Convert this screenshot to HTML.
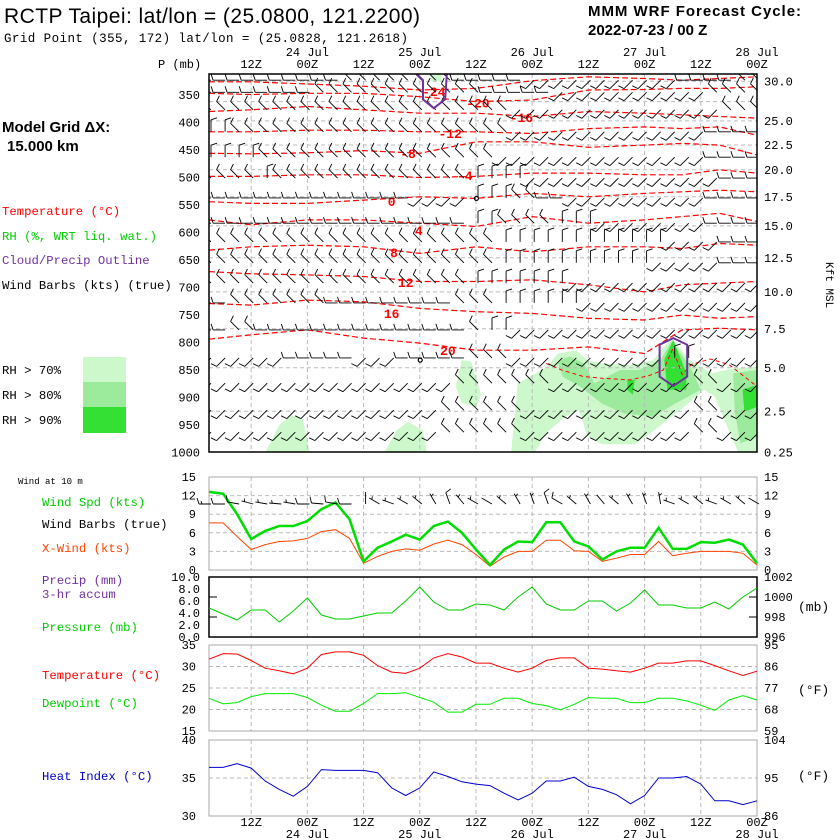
<!DOCTYPE html>
<html><head><meta charset="utf-8"><style>
html,body{margin:0;padding:0;background:#fff;}
svg{display:block;}
text{font-family:"Liberation Mono","DejaVu Sans Mono",monospace;}
.ttl{font-family:"Liberation Sans",Arial,sans-serif;}
</style></head><body>
<svg id="chart" xmlns="http://www.w3.org/2000/svg" width="840" height="840" viewBox="0 0 840 840">
<text class="ttl" x="4" y="23" font-size="21" textLength="416">RCTP Taipei:  lat/lon = (25.0800, 121.2200)</text>
<text x="4" y="42" font-size="12.5" textLength="404">Grid Point (355, 172) lat/lon = (25.0828, 121.2618)</text>
<text class="ttl" x="588" y="16" font-size="15" font-weight="bold" textLength="213">MMM WRF Forecast Cycle:</text>
<text class="ttl" x="588" y="35" font-size="15" font-weight="bold">2022-07-23 / 00  Z</text>
<text x="158" y="68" font-size="12">P (mb)</text>
<text class="ttl" x="2" y="132" font-size="15" font-weight="bold">Model Grid ΔX:</text>
<text class="ttl" x="7" y="151" font-size="15" font-weight="bold">15.000 km</text>
<text x="2" y="215" font-size="12.3" fill="#ff0000">Temperature (°C)</text>
<text x="2" y="240" font-size="12.3" fill="#00cc00">RH (%, WRT liq. wat.)</text>
<text x="2" y="264" font-size="12.3" fill="#7030a0">Cloud/Precip Outline</text>
<text x="2" y="289" font-size="12.3" fill="#000">Wind Barbs (kts) (true)</text>
<text x="2" y="374" font-size="12.3">RH &gt; 70%</text>
<text x="2" y="399" font-size="12.3">RH &gt; 80%</text>
<text x="2" y="424" font-size="12.3">RH &gt; 90%</text>
<rect x="83" y="357" width="43" height="25" fill="#ccf8cc"/>
<rect x="83" y="382" width="43" height="25" fill="#9ceb9c"/>
<rect x="83" y="407" width="43" height="26" fill="#33e033"/>
<text font-size="11" transform="translate(826,262) rotate(90)">Kft MSL</text>
<text x="18" y="484" font-size="9">Wind at 10 m</text>
<text x="42" y="506" font-size="12.3" fill="#00cc00">Wind Spd (kts)</text>
<text x="42" y="528" font-size="12.3">Wind Barbs (true)</text>
<text x="42" y="552" font-size="12.3" fill="#ff4400">X-Wind (kts)</text>
<text x="42" y="584" font-size="12.3" fill="#7030a0">Precip (mm)</text>
<text x="42" y="598" font-size="12.3" fill="#7030a0">3-hr accum</text>
<text x="42" y="631" font-size="12.3" fill="#00cc00">Pressure (mb)</text>
<text x="798" y="611" font-size="13">(mb)</text>
<text x="42" y="679" font-size="12.3" fill="#ff0000">Temperature (°C)</text>
<text x="42" y="707" font-size="12.3" fill="#00cc00">Dewpoint (°C)</text>
<text x="798" y="694" font-size="13">(°F)</text>
<text x="42" y="780" font-size="12.3" fill="#0000cc">Heat Index (°C)</text>
<text x="798" y="780" font-size="13">(°F)</text>
<g id="g"></g>
</svg>
<script>
// ---------- data ----------
const timeHours = [3,6,9,12,15,18,21,24,27,30,33,36,39,42,45,48,51,54,57,60,63,66,69,72,75,78,81,84,87,90,93,96,99,102,105,108,111,114,117,120];
const tickHours = [12,24,36,48,60,72,84,96,108,120];
const tickTimes = ["12Z","00Z","12Z","00Z","12Z","00Z","12Z","00Z","12Z","00Z"];
const dateHours = [24,48,72,96,120];
const dateLabels = ["24 Jul","25 Jul","26 Jul","27 Jul","28 Jul"];
const pressTicks = [350,400,450,500,550,600,650,700,750,800,850,900,950,1000];
const kftLabels = ["30.0","25.0","22.5","20.0","17.5","15.0","12.5","10.0","7.5","5.0","2.5","0.25"];
const kftPress = [325,397,441,486,535,588,646,708,775,846,925,1000];
const kftGridPress = [325,362,397,441,486,535,588,646,708,775,846,925];
const precipTicks = [10,8,6,4,2,0];
const precipLabels = ["10.0","8.0","6.0","4.0","2.0","0.0"];

const windSpd = [12.6,12.3,9,5,6.3,7.1,7.1,7.9,9.8,10.9,8.2,1.4,3.6,4.6,5.7,4.9,7.1,7.8,6,3.3,0.8,3.3,4.6,4.5,7.7,7.7,4.6,3.8,1.7,3,3.6,3.6,6.8,3.4,3.4,4.5,4.4,4.9,4.1,1.1];
const xWind = [7.6,7.6,5.4,3.3,4.1,4.6,4.7,5.1,6.2,6.5,5.1,1.1,2.2,3,3.4,3.2,4.2,4.8,4.1,2.5,0.6,2.1,3,3,4.8,4.8,3.1,3,1.4,1.9,2.5,2.5,4.6,2.3,2.7,3,3,3,2.7,0.8];
const wind10Dir = [270,270,280,285,280,275,280,270,275,280,270,0,300,290,300,310,330,340,320,300,300,310,330,340,340,300,310,330,320,310,330,340,350,290,300,310,290,300,310,300];
const surfPress = [998.9,998.3,997.7,998.7,998.7,997.5,998.6,999.9,998.2,997.8,997.8,998.1,998.4,998.4,999.6,1001.0,999.5,998.7,998.7,999.3,999.2,998.7,1000,1001,999.3,998.7,998.7,999.6,999.6,998.6,999.4,1000.7,999.2,999.2,998.9,998.9,999.5,998.8,1000,1000.9];
const temp2m = [31.7,33,32.9,31.4,29.6,29,28.3,29.6,32.8,33.4,33.4,32.6,30.2,28.7,28.4,29.6,32,33,32.2,30.8,30.8,29.6,28.7,29.6,31.4,32,32,29.6,29.4,29,28.7,29.6,30.8,30.8,31.3,31.3,30.2,29,27.9,28.9];
const dewpt = [22.6,21.3,21.6,23,23.7,23.7,23.7,22.8,21,19.6,19.6,21.4,23.7,23.7,23.9,22.8,21.7,19.4,19.4,21.2,21.2,22.6,22.6,21.4,20.9,19.9,21.2,22.8,22.6,22.6,21.6,21.6,22.6,22.6,22,21,19.8,22.2,23.2,22.2];
const heatIdx = [36.4,36.4,36.9,36.3,34.6,33.5,32.6,33.9,36.1,36,36,36,35.7,33.7,32.7,33.7,35.8,35.2,34.5,34.2,34,33,32.1,33,34.6,34.6,35.1,33.9,33.5,32.8,31.6,32.7,35,35,35.2,34.2,32,32,31.5,32];

// temperature contours (pressure mb at sample hours)
const contourHours = [3,12,24,36,48,60,72,84,96,104,112,120];
const contourLevels = [-24,-20,-16,-12,-8,-4,0,4,8,12,16,20];
const contourPress = [
 [326,326,330,334,341,338,324,317,320,323,320,317],
 [347,349,347,347,353,362,359,341,340,338,338,335],
 [380,377,371,377,383,383,389,380,383,386,389,392],
 [417,417,414,414,417,417,420,411,408,411,408,423],
 [456,457,455,451,456,435,435,445,441,438,441,459],
 [498,498,495,495,500,498,492,492,495,495,486,492],
 [544,547,547,541,535,538,529,535,529,526,523,526],
 [577,586,577,577,583,589,571,583,577,571,565,580],
 [632,626,623,626,638,626,635,626,626,629,620,623],
 [671,675,677,680,689,689,686,695,708,695,692,689],
 [729,732,723,726,738,744,747,756,759,750,756,753],
 [794,786,777,792,801,814,814,808,820,777,774,777]];
const contourLabelHour = [51,60.4,69.7,54.5,45.5,57.6,42,47.8,42.5,45,42,54];
const contourLabelPress = [343,364,390,419,455,495,543,595,635,690,746,814];
const lowContour = [[75,838],[78.3,850],[83,862],[87,865],[93,868],[97,860],[100,850],[102,812],[104,858],[106,840],[110,830],[114,840],[120,880]];

// RH shading polygons [hour, pressure]
const rhLight = [
 [[15,1000],[18,950],[20.6,932],[23,940],[24.5,1000]],
 [[40.5,1000],[43,960],[45.5,944],[48.7,960],[49.5,1000]],
 [[55.7,880],[57,832],[59,835],[61.1,895],[60,917],[57,910]],
 [[67.5,1000],[68.9,874],[72,860],[75,845],[77.5,820],[81.4,814],[83.8,832],[86.9,838],[93.1,841],[97.8,832],[101.7,792],[105.6,832],[110.3,856],[114.9,847],[120,844],[120,1000],[116,1000],[114,960],[111,898],[108.7,886],[104,920],[98,960],[94,985],[87,985],[83.8,971],[82,923],[79,935],[75,965],[72.5,1000]],
 [[50.3,312],[52.6,312],[52.6,325],[50.3,325]]];
const rhMed = [
 [[77.5,835],[80,825],[83,838],[85.3,874],[90.8,850],[94.7,850],[99.4,832],[101.7,798],[105.6,841],[108,886],[102.5,911],[97.8,935],[91.6,929],[86.9,911],[82.2,880],[78.5,862]],
 [[114.9,856],[120,850],[120,971],[116.5,983],[115.3,929]]];
const rhDark = [
 [[100.2,832],[102.1,795],[104.9,856],[104.9,886],[100.9,886]],
 [[92.3,868],[93.9,868],[93.5,895],[92.3,886]],
 [[116.9,886],[120,877],[120,917],[117.3,926]]];
const cloudHex = [[99.2,804],[102.1,792],[105.1,804],[105.1,862],[102.1,879],[99.2,862],[99.2,804]];
const cloudTop = [[47.1,310],[48.7,323],[48.7,358],[51,374],[53.4,358],[53.8,310]];
const calmHours = [60.1,48.1];
const calmPress = [538,832];

// upper-air wind barbs: levels, speed per level, direction code per column (0=N..7=NW)
const barbLevels = [323,345,377,417,463,501,537,583,617,655,692,728,777,828,874,923,963];
const barbSpeeds = [10,10,10,10,10,10,10,10,10,10,10,10,10,10,10,10,10];
const barbDirs = [
"6666666666777777776666655555555555666677",
"6666666677777777777766666555555555557777",
"7777777777777777777777555555555555555777",
"0077777777777777777777555555555555556666",
"0000777777777777777775555555555555556666",
"7777077777777777777000055555555555555666",
"6666666666666665555000776655555555556666",
"6666666666666666666007777000555555556666",
"7777777777777777777770000000000005555666",
"7777777777777777777770000000000055555666",
"7777777777777777777000000055555555555555",
"6677777776666666667770000005555555555555",
"6677666666666666666700555555555555555555",
"5555556666655566666777555555555550055555",
"5555555555555555557777777555555555577555",
"5555555555555555577777755555555555577555",
"5555555555555555577777755555555555577555"];

// ---------- scales ----------
const L=209, R=757;
const X = h => L + (h-3)*(R-L)/117;
const YP = p => 95 + (p-350)*0.55;
const YW = v => 570 - v*6.2;
const YS = mb => 577 + (1002-mb)*10;
const YR = mm => 637 - mm*6;
const YT = c => 645 + (35-c)*4.3;
const YH = c => 740 + (40-c)*7.6;
const NS="http://www.w3.org/2000/svg";
const g=document.getElementById('g');
function el(tag,attrs,parent){const e=document.createElementNS(NS,tag);for(const k in attrs)e.setAttribute(k,attrs[k]);(parent||g).appendChild(e);return e;}
function txt(s,x,y,attrs,parent){const e=el('text',Object.assign({x:x,y:y,'font-size':12},attrs||{}),parent);e.textContent=s;return e;}
function poly(pts,fx,fy){return pts.map(p=>fx(p[0]).toFixed(1)+','+fy(p[1]).toFixed(1)).join(' ');}

// ---------- main panel ----------
const main=el('g',{});


const clip=el('clipPath',{id:'mc'});el('rect',{x:L,y:74,width:R-L,height:378},clip);
const mainC=el('g',{'clip-path':'url(#mc)'},main);
[[rhLight,'#ccf8cc'],[rhMed,'#9ceb9c'],[rhDark,'#33e033']].forEach(([set,col])=>{
  set.forEach(pg=>{const p=el('polygon',{points:poly(pg,X,YP),fill:col},mainC);
  
  });
});
kftGridPress.forEach(p=>{const l=el('line',{x1:L,x2:R,y1:YP(p),y2:YP(p),stroke:'#bbb','stroke-dasharray':'4,3'},mainC);
 
 });
tickHours.forEach(h=>{const l=el('line',{x1:X(h),x2:X(h),y1:74,y2:452,stroke:'#bbb','stroke-dasharray':'4,3'},mainC);
 
 });
contourLevels.forEach((lv,i)=>{
  const pts=contourHours.map((h,j)=>[h,contourPress[i][j]]);
  const pl=el('polyline',{points:poly(pts,X,YP),fill:'none',stroke:'#ff0000','stroke-width':1.2,'stroke-dasharray':'6,3'},mainC);
  
  
  const t=txt(String(lv),X(contourLabelHour[i]),YP(contourLabelPress[i])+5,{'font-size':13,'font-weight':'bold',fill:'#ff0000','text-anchor':'middle','font-family':'Liberation Sans, sans-serif'},mainC);
  
  
});
const lc=el('polyline',{points:poly(lowContour,X,YP),fill:'none',stroke:'#ff0000','stroke-width':1,'stroke-dasharray':'4,3'},mainC);


function barb(parent,x,y,dir,spd){
  const a=dir*Math.PI/180, Ls=12;
  const ux=Math.sin(a), uy=-Math.cos(a);
  const tx=x+ux*Ls, ty=y+uy*Ls;
  const px=-uy, py=ux;
  let d='M'+x.toFixed(1)+','+y.toFixed(1)+'L'+tx.toFixed(1)+','+ty.toFixed(1);
  let s=Math.round(spd/5)*5, pos=0;
  while(s>=10){const bx=tx-ux*pos,by=ty-uy*pos;d+='M'+bx.toFixed(1)+','+by.toFixed(1)+'l'+((px*6+ux*2)).toFixed(1)+','+((py*6+uy*2)).toFixed(1);s-=10;pos+=3;}
  if(s>=5){if(pos===0)pos=3;const bx=tx-ux*pos,by=ty-uy*pos;d+='M'+bx.toFixed(1)+','+by.toFixed(1)+'l'+((px*3+ux)).toFixed(1)+','+((py*3+uy)).toFixed(1);}
  return el('path',{d:d,stroke:'#000','stroke-width':0.9,fill:'none'},parent);
}
barbLevels.forEach((lv,r)=>{
  for(let c=0;c<timeHours.length;c++){
    const dir=+barbDirs[r][c]*45;
    const b=barb(mainC,X(timeHours[c])+2,YP(lv),dir,barbSpeeds[r]);
    
    
  }
});
const ch=el('polyline',{points:poly(cloudHex,X,YP),fill:'none',stroke:'#7030a0','stroke-width':2},mainC);


const ct=el('polyline',{points:poly(cloudTop,X,YP),fill:'none',stroke:'#7030a0','stroke-width':2},mainC);


calmHours.forEach((h,i)=>{const c=el('circle',{cx:X(h),cy:YP(calmPress[i]),r:2,fill:'none',stroke:'#000','stroke-width':1.2},mainC);
 
 });
const mb=el('rect',{x:L,y:74,width:R-L,height:378,fill:'none',stroke:'#000','stroke-width':1.5},main);


pressTicks.forEach(p=>{const t=txt(String(p),200,YP(p)+4,{'text-anchor':'end'});
 
 });
kftLabels.forEach((s,i)=>{const t=txt(s,764,YP(kftPress[i])+4,{});
 
 });
tickHours.forEach((h,i)=>{const t=txt(tickTimes[i],X(h),68,{'text-anchor':'middle'});
 
 });
dateHours.forEach((h,i)=>{const t=txt(dateLabels[i],X(h),56,{'text-anchor':'middle'});
 
 });

// ---------- lower panels ----------
function panel(name,top,bot,gridVals,yf,frameColor){
  const pg=el('g',{});
  
  
  gridVals.forEach(v=>{el('line',{x1:L,x2:R,y1:yf(v),y2:yf(v),stroke:'#bbb','stroke-dasharray':'4,3'},pg);});
  tickHours.slice(0,-1).forEach(h=>{el('line',{x1:X(h),x2:X(h),y1:top,y2:bot,stroke:'#bbb','stroke-dasharray':'4,3'},pg);});
  el('rect',{x:L,y:top,width:R-L,height:bot-top,fill:'none',stroke:frameColor,'stroke-width':frameColor==='#000'?1.5:1},pg);
  return pg;
}
function series(pg,vals,yf,color,w,name){
  const pts=vals.map((v,i)=>X(timeHours[i]).toFixed(1)+','+yf(v).toFixed(1)).join(' ');
  const pl=el('polyline',{points:pts,fill:'none',stroke:color,'stroke-width':w},pg);
  
  
}
function labels(pg,vals,strs,yf,x,anchor){vals.forEach((v,i)=>{const t=txt(strs[i],x,yf(v)+4,{'text-anchor':anchor},pg);
  
  });}

const windTicks=[0,3,6,9,12,15];
const pw=panel('wind-panel',477,570,[3,6,9,12],YW,'#aaa');
labels(pw,windTicks,["0","3","6","9","12","15"],YW,196,'end');
labels(pw,windTicks,["0","3","6","9","12","15"],YW,764,'start');
series(pw,xWind,YW,'#ff4400',1,'x-wind-line');
series(pw,windSpd,YW,'#00dd00',2.5,'wind-speed-line');
timeHours.forEach((h,i)=>{const b=barb(pw,X(h)+2,504,wind10Dir[i],windSpd[i]);
  
  });

const ps=panel('pressure-panel',577,637,[],YS,'#000');
labels(ps,precipTicks,precipLabels,YR,200,'end');
labels(ps,[1002,1000,998,996],["1002","1000","998","996"],YS,764,'start');
[1000,998].forEach(v=>{el('line',{x1:L,x2:L+8,y1:YS(v),y2:YS(v),stroke:'#000'},ps);el('line',{x1:R-8,x2:R,y1:YS(v),y2:YS(v),stroke:'#000'},ps);});
series(ps,surfPress,YS,'#00cc00',1,'pressure-line');

const pt=panel('temperature-panel',645,731,[30,25,20],YT,'#aaa');
labels(pt,[35,30,25,20,15],["35","30","25","20","15"],YT,196,'end');
labels(pt,[35,30,25,20,15],["95","86","77","68","59"],YT,764,'start');
series(pt,temp2m,YT,'#ff0000',1,'temperature-line');
series(pt,dewpt,YT,'#00ee00',1,'dewpoint-line');

const ph=panel('heat-index-panel',740,816,[35],YH,'#aaa');
labels(ph,[40,35,30],["40","35","30"],YH,196,'end');
labels(ph,[40,35,30],["104","95","86"],YH,764,'start');
series(ph,heatIdx,YH,'#0000cc',1,'heat-index-line');

tickHours.forEach((h,i)=>{const t=txt(tickTimes[i],X(h),826,{'text-anchor':'middle'});
 
 });
dateHours.forEach((h,i)=>{const t=txt(dateLabels[i],X(h),838,{'text-anchor':'middle'});
 
 });
</script>
</body></html>
